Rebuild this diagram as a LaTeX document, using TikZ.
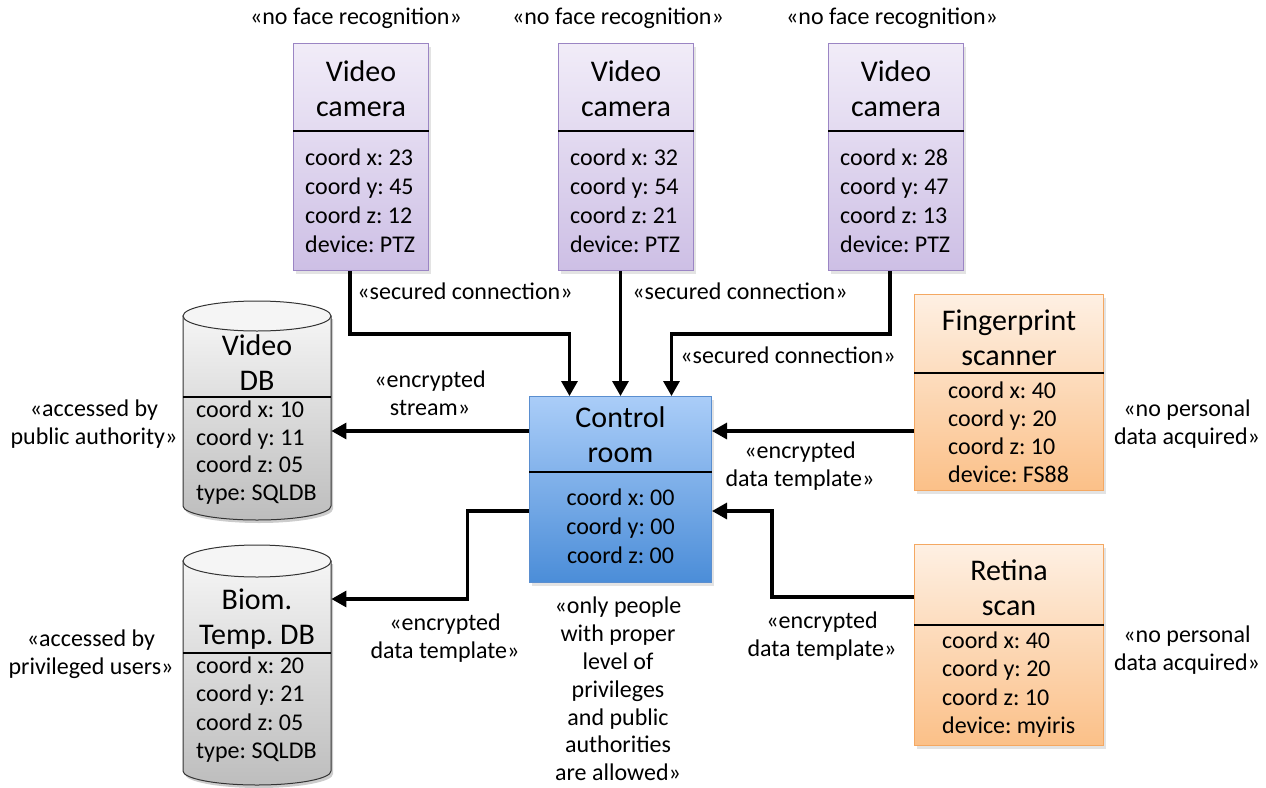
\documentclass[tikz,border=0pt]{standalone}
\usepackage{fontspec}
\setmainfont{Carlito}
\usetikzlibrary{arrows.meta,calc,shadows}
\frenchspacing

\definecolor{camtop}{HTML}{F1ECF8}
\definecolor{cambot}{HTML}{CDBFE5}
\definecolor{camedge}{HTML}{9B85C4}
\definecolor{crtop}{HTML}{AACDF8}
\definecolor{crbot}{HTML}{4B8DD8}
\definecolor{credge}{HTML}{5A8ECF}
\definecolor{ortop}{HTML}{FEF0E3}
\definecolor{orbot}{HTML}{FBC088}
\definecolor{oredge}{HTML}{F4A862}
\definecolor{dbtop}{HTML}{F5F5F5}
\definecolor{dbbot}{HTML}{BDBDBD}
\definecolor{dbedge}{HTML}{333333}

\begin{document}
\begin{tikzpicture}[x=1pt,y=-1pt,
  box/.style={rectangle, inner sep=0, anchor=north west, line width=1pt,
    drop shadow={opacity=0.22, shadow xshift=2pt, shadow yshift=-3pt}},
  cambox/.style={box, draw=camedge, top color=camtop, bottom color=cambot,
    minimum width=135pt, minimum height=227pt},
  crbox/.style={box, draw=credge, top color=crtop, bottom color=crbot},
  orbox/.style={box, draw=oredge, top color=ortop, bottom color=orbot},
  dbshape/.style={draw=dbedge, line width=1pt, top color=dbtop, bottom color=dbbot},
  divider/.style={line width=1.3pt, black},
  title/.style={font=\fontsize{30}{35}\selectfont, align=center, inner sep=0},
  body/.style={font=\fontsize{24}{29}\selectfont, align=left, inner sep=0, anchor=west},
  bodyc/.style={font=\fontsize{24}{29}\selectfont, align=center, inner sep=0},
  lbl/.style={font=\fontsize{24}{28}\selectfont, align=center, inner sep=0},
  conn/.style={line width=3.2pt, -{Triangle[length=15pt,width=16pt]}}]

\useasboundingbox (0,0) rectangle (1266,787);

% ---------- video cameras ----------
\node[cambox] (c1) at (293,43) {};
\node[cambox] (c2) at (558,43) {};
\node[cambox] (c3) at (828,43) {};
\foreach \c/\x/\y/\z in {c1/23/45/12, c2/32/54/21, c3/28/47/13}{
  \draw[divider] ($(\c.north west)+(0,88)$) -- ($(\c.north east)+(0,88)$);
  \node[title] (\c-t) at ($(\c.north)+(0,46)$) {Video\\camera};
  \node[body] (\c-b) at ($(\c.north west)+(12,157.5)$)
    {coord x: \x\\coord y: \y\\coord z: \z\\device: PTZ};
}
\node[lbl] (c1-s) at (356,18) {«no face recognition»};
\node[lbl] (c2-s) at (618,18) {«no face recognition»};
\node[lbl] (c3-s) at (892,18) {«no face recognition»};

% ---------- control room ----------
\node[crbox, minimum width=182pt, minimum height=186pt] (cr) at (529,396) {};
\draw[divider] ($(cr.north west)+(0,76)$) -- ($(cr.north east)+(0,76)$);
\node[title] (cr-t) at ($(cr.north)+(0,38.5)$) {Control\\room};
\node[bodyc] (cr-b) at ($(cr.north)+(0,130)$) {coord x: 00\\coord y: 00\\coord z: 00};
\node[lbl, font=\fontsize{24}{27.8}\selectfont] (cr-s) at (618,689)
  {«only people\\with proper\\level of\\privileges\\and public\\authorities\\are allowed»};

% ---------- fingerprint scanner ----------
\node[orbox, minimum width=189pt, minimum height=196pt] (fp) at (914,294) {};
\draw[divider] ($(fp.north west)+(0,79)$) -- ($(fp.north east)+(0,79)$);
\node[title] (fp-t) at ($(fp.north)+(0,43.5)$) {Fingerprint\\scanner};
\node[body, font=\fontsize{24}{28}\selectfont] (fp-b) at ($(fp.north west)+(34,138)$)
  {coord x: 40\\coord y: 20\\coord z: 10\\device: FS88};
\node[lbl] (fp-s) at (1187,424) {«no personal\\data acquired»};

% ---------- retina scan ----------
\node[orbox, minimum width=189pt, minimum height=201pt] (rt) at (914,544) {};
\draw[divider] ($(rt.north west)+(0,81)$) -- ($(rt.north east)+(0,81)$);
\node[title] (rt-t) at ($(rt.north)+(0,44)$) {Retina\\scan};
\node[body, font=\fontsize{24}{28.3}\selectfont] (rt-b) at ($(rt.north west)+(28,140.5)$)
  {coord x: 40\\coord y: 20\\coord z: 10\\device: myiris};
\node[lbl] (rt-s) at (1187,650) {«no personal\\data acquired»};

% ---------- video database (cylinder) ----------
\fill[black, opacity=0.2] (185,319) -- (185,509) .. controls (185,516.7) and (218.1,523) .. (259,523)
  .. controls (299.9,523) and (333,516.7) .. (333,509) -- (333,319) -- cycle;
\path[dbshape] (183,316) -- (183,506) .. controls (183,513.7) and (216.1,520) .. (257,520)
  .. controls (297.9,520) and (331,513.7) .. (331,506) -- (331,316) -- cycle;
\draw[draw=dbedge, line width=1pt, fill=dbtop] (257,316) ellipse [x radius=74, y radius=15];
\node[inner sep=0, minimum width=148pt, minimum height=190pt, anchor=north west] (vdb) at (183,316) {};
\draw[divider] ($(vdb.north west)+(0,81)$) -- ($(vdb.north east)+(0,81)$);
\node[title] (vdb-t) at (257,362.5) {Video\\DB};
\node[body, font=\fontsize{24}{27.7}\selectfont] (vdb-b) at (196,452.5)
  {coord x: 10\\coord y: 11\\coord z: 05\\type: SQLDB};
\node[lbl] (vdb-s) at (94,424) {«accessed by\\public authority»};

% ---------- biometric template database (cylinder) ----------
\fill[black, opacity=0.2] (185,564) -- (185,774) .. controls (185,781.7) and (218.1,788) .. (259,788)
  .. controls (299.9,788) and (333,781.7) .. (333,774) -- (333,564) -- cycle;
\path[dbshape] (183,561) -- (183,771) .. controls (183,778.7) and (216.1,785) .. (257,785)
  .. controls (297.9,785) and (331,778.7) .. (331,771) -- (331,561) -- cycle;
\draw[draw=dbedge, line width=1pt, fill=dbtop] (257,561) ellipse [x radius=74, y radius=16];
\node[inner sep=0, minimum width=148pt, minimum height=210pt, anchor=north west] (bdb) at (183,561) {};
\draw[divider] ($(bdb.north west)+(0,92)$) -- ($(bdb.north east)+(0,92)$);
\node[title] (bdb-t) at (257,619) {Biom.\\Temp. DB};
\node[body, font=\fontsize{24}{28.3}\selectfont] (bdb-b) at (196,709.5)
  {coord x: 20\\coord y: 21\\coord z: 05\\type: SQLDB};
\node[lbl] (bdb-s) at (91,654) {«accessed by\\privileged users»};

% ---------- connections ----------
\draw[conn] ($(c1.south west)+(57,0)$) |- ($(cr.north)+(-51,-62)$) -- ($(cr.north)+(-51,0)$);
\draw[conn] (c2.south -| cr.north) -- (cr.north);
\draw[conn] ($(c3.south)+(-6,0)$) |- ($(cr.north)+(51,-62)$) -- ($(cr.north)+(51,0)$);
\node[lbl] (l1) at (465,291) {«secured connection»};
\node[lbl] (l2) at (740,291) {«secured connection»};
\node[lbl] (l3) at (788,355) {«secured connection»};

\coordinate (s1) at ($(cr.north west)+(0,35)$);
\draw[conn] (s1) -- (s1 -| vdb.east);
\node[lbl] (l4) at (430,393.5) {«encrypted\\stream»};

\coordinate (s2) at ($(cr.north west)+(0,115)$);
\coordinate (t2) at ($(bdb.north east)+(0,38)$);
\draw[conn] (s2) -| ($(t2)+(136,0)$) -- (t2);
\node[lbl] (l5) at (445,638.5) {«encrypted\\data template»};

\coordinate (s3) at ($(fp.north west)+(0,137)$);
\draw[conn] (s3) -- (s3 -| cr.east);
\node[lbl] (l6) at (800,466.5) {«encrypted\\data template»};

\coordinate (s4) at ($(rt.north west)+(0,53)$);
\coordinate (t4) at ($(cr.north east)+(0,115)$);
\draw[conn] (s4) -| ($(t4)+(60,0)$) -- (t4);
\node[lbl] (l7) at (822,636) {«encrypted\\data template»};
\end{tikzpicture}
\end{document}
